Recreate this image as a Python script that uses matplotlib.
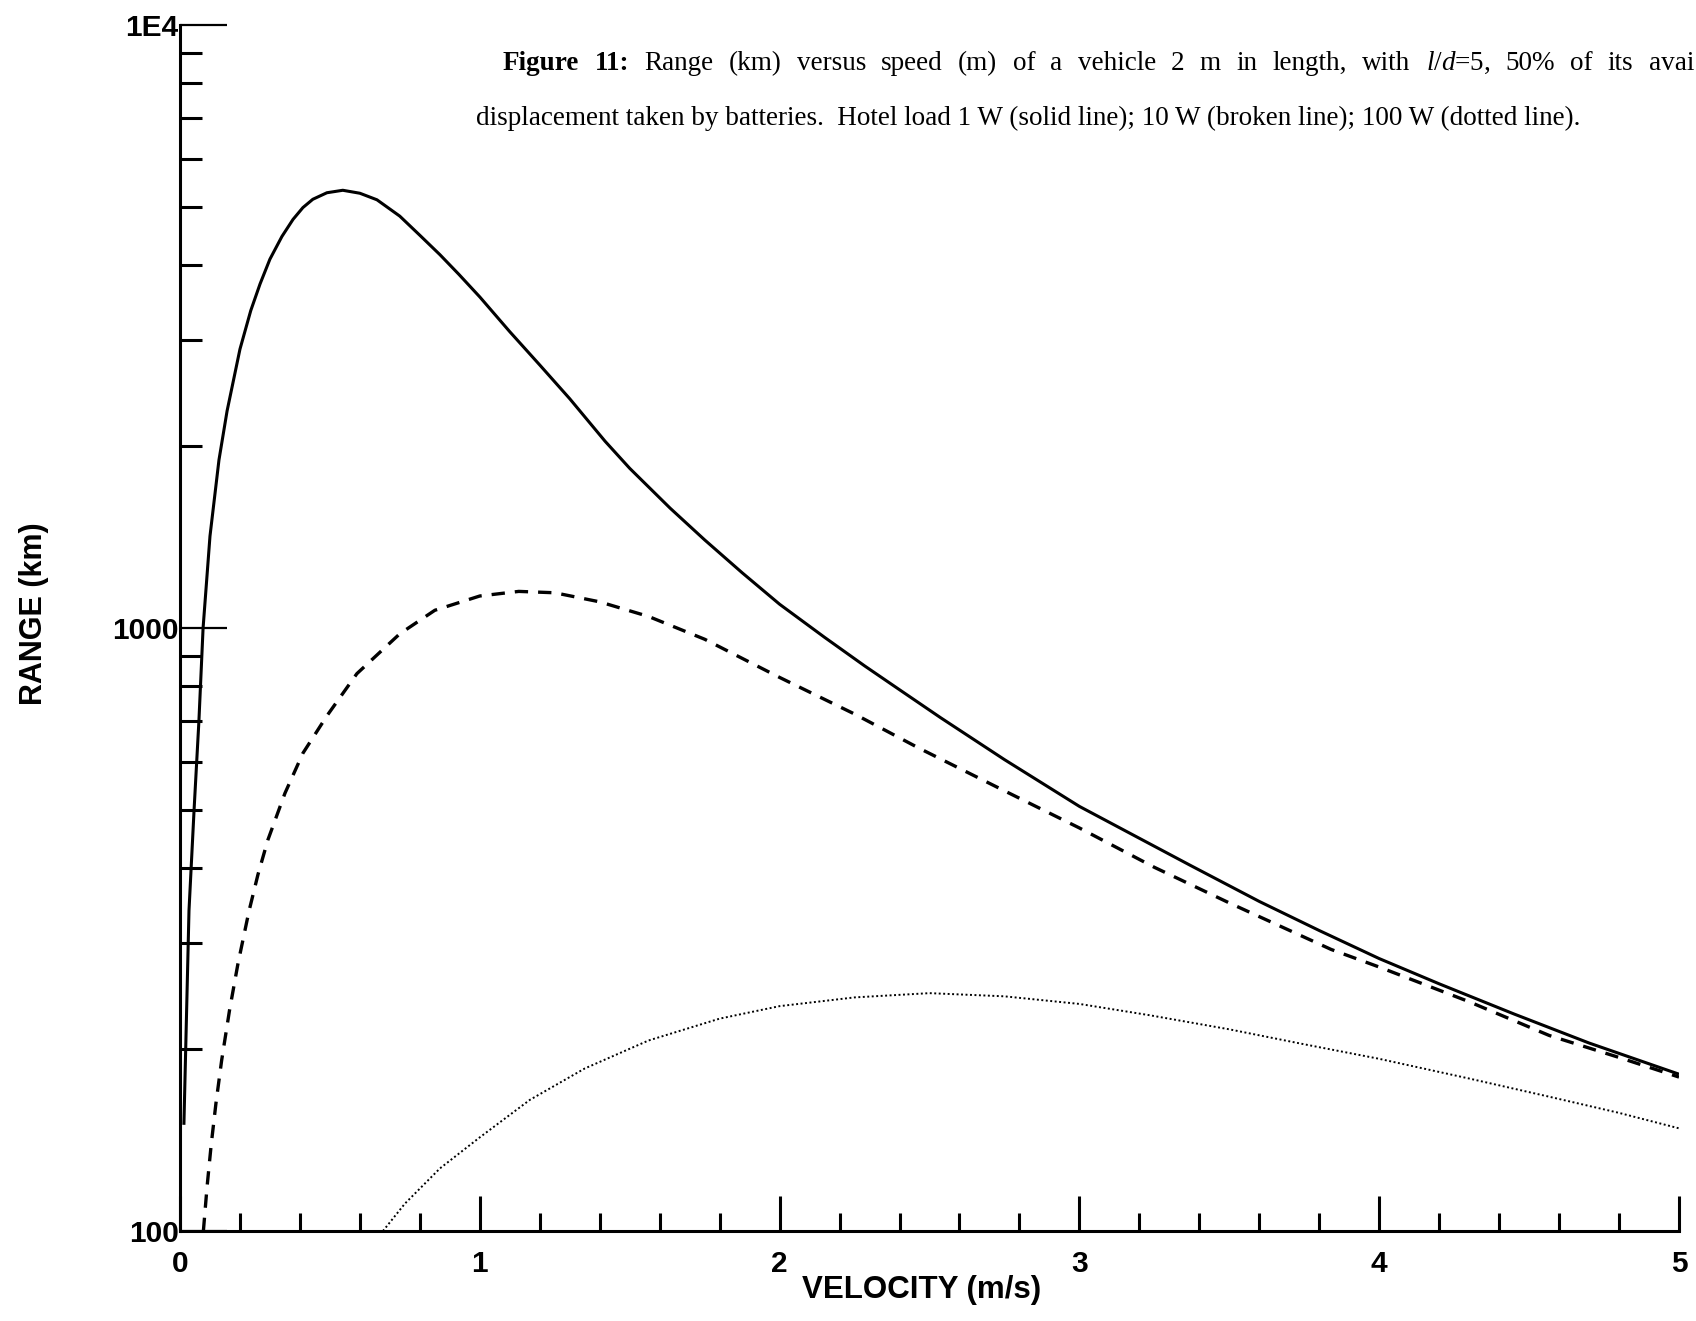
import matplotlib
matplotlib.use("Agg")
import matplotlib.pyplot as plt
from matplotlib.ticker import FixedLocator, FixedFormatter, NullFormatter

# values
v_solid = [0.013, 0.03, 0.047, 0.063, 0.077, 0.1, 0.13, 0.157, 0.2, 0.236, 0.267, 0.3,
           0.34, 0.377, 0.41, 0.443, 0.49, 0.543, 0.6, 0.657, 0.733, 0.8, 0.867, 0.93,
           1.0, 1.1, 1.2, 1.3, 1.418, 1.5, 1.635, 1.75, 1.875, 2.0, 2.15, 2.284, 2.4,
           2.537, 2.75, 3.0, 3.2, 3.37, 3.6, 3.8, 4.0, 4.2, 4.45, 4.7, 5.0]
r_solid = [150, 340, 500, 700, 1000, 1420, 1900, 2290, 2900, 3360, 3720, 4090,
           4460, 4760, 4980, 5140, 5270, 5320, 5260, 5130, 4820, 4480, 4160, 3860,
           3540, 3100, 2730, 2400, 2040, 1840, 1580, 1400, 1235, 1095, 965, 865, 790,
           710, 605, 506, 448, 404, 352, 315, 283, 257, 229, 205, 182]

v_dash = [0.078, 0.09, 0.104, 0.12, 0.139, 0.165, 0.193, 0.23, 0.26, 0.293, 0.35, 0.41,
          0.49, 0.59, 0.733, 0.85, 1.0, 1.13, 1.25, 1.4, 1.563, 1.75, 2.0, 2.25, 2.465,
          2.75, 3.0, 3.25, 3.5, 3.84, 4.0, 4.3, 4.567, 4.8, 5.0]
r_dash = [100, 118, 139, 163, 192, 232, 277, 339, 390, 445, 532, 620,
          715, 840, 978, 1070, 1130, 1150, 1144, 1105, 1045, 958, 828, 720, 632,
          537, 466, 401, 350, 293, 274, 240, 211, 194, 180]

v_dot = [0.677, 0.75, 0.867, 1.0, 1.167, 1.35, 1.563, 1.8, 2.0, 2.25, 2.5, 2.75,
         3.0, 3.233, 3.5, 3.75, 4.0, 4.3, 4.567, 4.8, 5.0]
r_dot = [100, 111, 127, 143, 165, 186, 207, 225, 236, 244, 248, 245,
         238, 228, 216, 204, 193, 179, 167, 157, 148]

x_major = [0, 1, 2, 3, 4, 5]
x_minor = [0.2 * i for i in range(26) if i % 5 != 0]
y_major = [100, 1000, 10000]
y_major_labels = ["100", "1000", "1E4"]
y_minor = [k * 100 for k in range(2, 10)] + [k * 1000 for k in range(2, 10)]

caption1 = ["Figure", "11:", "Range", "(km)", "versus", "speed", "(m)", "of", "a",
            "vehicle", "2", "m", "in", "length,", "with", r"$\mathit{l/d}$=5,", "50%",
            "of", "its", "avai"]
caption2 = ("displacement taken by batteries.  Hotel load 1 W (solid line); "
            "10 W (broken line); 100 W (dotted line).")

plt.rcParams["mathtext.fontset"] = "custom"
plt.rcParams["mathtext.rm"] = "Liberation Serif"
plt.rcParams["mathtext.it"] = "Liberation Serif:italic"
plt.rcParams["mathtext.bf"] = "Liberation Serif:bold"

W, H = 1696, 1321
fig = plt.figure(figsize=(W / 100, H / 100), dpi=100)
x0, x1, yb, yt = 180, 1679, 1231, 25
ax = fig.add_axes([x0 / W, 1 - yb / H, (x1 - x0) / W, (yb - yt) / H])

ax.plot(v_solid, r_solid, color="black", lw=2.2, solid_capstyle="butt")
ax.plot(v_dash, r_dash, color="black", lw=2.4, dashes=(4, 3))
ax.plot(v_dot, r_dot, color="black", lw=1.4, dashes=(1, 1.3))

ax.set_yscale("log")
ax.set_xlim(0, 5)
ax.set_ylim(100, 10000)

for s in ["top", "right"]:
    ax.spines[s].set_visible(False)
for s in ["left", "bottom"]:
    ax.spines[s].set_linewidth(2.2)

ax.xaxis.set_major_locator(FixedLocator(x_major))
ax.xaxis.set_minor_locator(FixedLocator(x_minor))
ax.yaxis.set_major_locator(FixedLocator(y_major))
ax.yaxis.set_major_formatter(FixedFormatter(y_major_labels))
ax.yaxis.set_minor_locator(FixedLocator(y_minor))
ax.yaxis.set_minor_formatter(NullFormatter())

tick_font = dict(family="Liberation Sans", weight="bold", size=21.5)
ax.tick_params(axis="x", which="major", direction="in", length=25, width=2.2, pad=14)
ax.tick_params(axis="x", which="minor", direction="in", length=13, width=2.2)
ax.tick_params(axis="y", which="major", direction="in", length=34, width=1.6, pad=1)
ax.tick_params(axis="y", which="minor", direction="in", length=16, width=2.2)
for lab in ax.get_xticklabels() + ax.get_yticklabels():
    lab.set_fontproperties(tick_font)

ax.set_xlabel("VELOCITY (m/s)", fontfamily="Liberation Sans", fontweight="bold", fontsize=22.5)
ax.set_ylabel("RANGE (km)", fontfamily="Liberation Sans", fontweight="bold", fontsize=22)
ax.xaxis.set_label_coords((922 - x0) / (x1 - x0), -(1275 - yb) / (yb - yt))
ax.yaxis.set_label_coords(-(x0 - 49) / (x1 - x0), (yb - 614) / (yb - yt))

# caption, first line justified so that it runs off the right edge
cap_font = dict(family="Liberation Serif", size=19.5)
renderer = fig.canvas.get_renderer()
words = []
for i, w in enumerate(caption1):
    t = fig.text(0, 0, w, fontweight="bold" if i < 2 else "normal",
                 va="baseline", ha="left", **cap_font)
    words.append(t)
widths = [t.get_window_extent(renderer).width for t in words]
start, end = 503, 1694
gap = (end - start - sum(widths)) / (len(words) - 1)
xpos = start
for t, wd in zip(words, widths):
    t.set_position((xpos / W, 1 - 70 / H))
    xpos += wd + gap

fig.text(476 / W, 1 - 125 / H, caption2, va="baseline", ha="left", **cap_font)

fig.savefig("out.png", dpi=100)
